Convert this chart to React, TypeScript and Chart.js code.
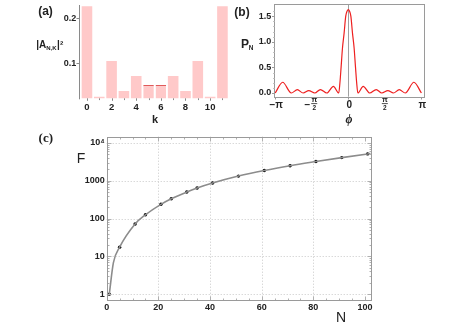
import React, { useEffect, useRef } from "react";
import { Chart, registerables } from "chart.js";

Chart.register(...registerables);

const W = 463;
const H = 328;
const SANS = '"Liberation Sans", Arial, sans-serif';
const SERIF = '"Liberation Serif", "Times New Roman", serif';
const INK = "#222";
const FRAME = "#9a9a9a";

// ---------- (a) bar chart ----------
const kCategories = ["0", "1", "2", "3", "4", "5", "6", "7", "8", "9", "10", "11"];
const amplitudeSq = [0.227, 0.0255, 0.105, 0.0384, 0.0718, 0.0518, 0.0518, 0.0718, 0.0384, 0.105, 0.0255, 0.227];
const highlightedK = [5, 6];
const aYTicks = [0.1, 0.2];
const aYLabels = ["0.1", "0.2"];

// ---------- (b) P_N(phi) ----------
const phiValues = [
  -3.1416, -2.82, -2.45, -2.19, -1.94, -1.7, -1.44, -1.2, -0.92, -0.64, -0.41, -0.36, -0.31, -0.25, -0.18, -0.11,
  -0.05, 0, 0.05, 0.11, 0.18, 0.25, 0.31, 0.36, 0.41, 0.64, 0.92, 1.2, 1.44, 1.7, 1.94, 2.19, 2.45, 2.82, 3.1416,
];
const pNValues = [
  0, 0.21, 0, 0.065, 0, 0.048, 0, 0.067, 0, 0.13, 0, 0.2, 0.5, 0.88, 1.17, 1.5, 1.6, 1.63, 1.6, 1.5, 1.17, 0.88, 0.5,
  0.2, 0, 0.13, 0, 0.067, 0, 0.048, 0, 0.065, 0, 0.21, 0,
];
const bXTicks = [-Math.PI, -Math.PI / 2, 0, Math.PI / 2, Math.PI];
const bXLabels = ["−π", "−π/2", "0", "π/2", "π"];
const bYTicks = [0, 0.5, 1.0, 1.5];
const bYLabels = ["0.0", "0.5", "1.0", "1.5"];

// ---------- (c) F(N) ----------
const nMarkers = [1, 5, 11, 15, 21, 25, 31, 35, 41, 51, 61, 71, 81, 91, 101];
const fMarkers = [1, 17.5, 72, 126, 238, 333, 503, 643, 870, 1330, 1870, 2500, 3220, 4100, 5130];
const curveN = [1, 2.6, 5, 11, 15, 21, 25, 31, 35, 41, 51, 61, 71, 81, 91, 101, 102.2];
const curveF = [1, 6.8, 17.5, 72, 126, 238, 333, 503, 643, 870, 1330, 1870, 2500, 3220, 4100, 5130, 5260];
const cXTicks = [0, 20, 40, 60, 80, 100];
const cXLabels = ["0", "20", "40", "60", "80", "100"];
const cXGrid = [20, 40, 60, 80];
const cYTicks = [1, 10, 100, 1000, 10000];
const cYLabels = ["1", "10", "100", "1000", "10⁴"];

type Area = { l: number; t: number; r: number; b: number };
const A_AREA: Area = { l: 80.8, t: 5, r: 228.6, b: 98.3 };
const B_AREA: Area = { l: 274.3, t: 4, r: 424.3, b: 96.7 };
const C_AREA: Area = { l: 106.7, t: 136.7, r: 370.7, b: 300 };

const YW = 40; // fixed width of y scale boxes (label room)
const XH = 18; // fixed height of x scale boxes

const layoutFor = (a: Area) => ({
  padding: { left: a.l - YW, top: a.t, right: W - a.r, bottom: H - a.b - XH },
});
const zeroPad = (s: any) => {
  s.paddingLeft = 0;
  s.paddingRight = 0;
  s.paddingTop = 0;
  s.paddingBottom = 0;
};
const fitX = (s: any) => {
  s.height = XH;
  zeroPad(s);
};
const fitY = (s: any) => {
  s.width = YW;
  zeroPad(s);
};
const px = (v: number) => Math.round(v) + 0.5;

function line(ctx: CanvasRenderingContext2D, x1: number, y1: number, x2: number, y2: number) {
  ctx.beginPath();
  ctx.moveTo(x1, y1);
  ctx.lineTo(x2, y2);
  ctx.stroke();
}

function text(
  ctx: CanvasRenderingContext2D,
  s: string,
  x: number,
  y: number,
  font: string,
  align: CanvasTextAlign = "center",
  baseline: CanvasTextBaseline = "alphabetic"
) {
  ctx.font = font;
  ctx.fillStyle = INK;
  ctx.textAlign = align;
  ctx.textBaseline = baseline;
  ctx.fillText(s, x, y);
}

const common = {
  responsive: false,
  animation: false as const,
  devicePixelRatio: 1,
  events: [] as any[],
};

const noGrid = { display: false, drawTicks: false, drawOnChartArea: false };

function configA(): any {
  const plugin = {
    id: "panelA",
    afterDraw(chart: any) {
      const ctx: CanvasRenderingContext2D = chart.ctx;
      const sx = chart.scales.x;
      const sy = chart.scales.y;
      ctx.save();
      ctx.strokeStyle = "#8a8a8a";
      ctx.lineWidth = 1;
      const ax = 79.5;
      line(ctx, ax, A_AREA.t, ax, A_AREA.b + 1);
      aYTicks.forEach((v) => {
        const y = px(sy.getPixelForValue(v));
        line(ctx, ax - 3, y, ax, y);
      });
      kCategories.forEach((_, i) => {
        const x = px(sx.getPixelForValue(i));
        line(ctx, x, A_AREA.b, x, A_AREA.b + (i % 2 === 0 ? 2.5 : 1.8));
      });
      // panel labels (whole figure)
      text(ctx, "(a)", 45.5, 15.3, `bold 12px ${SANS}`);
      text(ctx, "(b)", 242, 15.8, `bold 12px ${SANS}`);
      text(ctx, "(c)", 45.8, 141.5, `bold 13px ${SERIF}`);
      // |A_{N,K}|^2
      const mainF = `bold 10px ${SANS}`;
      const subF = `bold 6px ${SANS}`;
      ctx.font = mainF;
      const w1 = ctx.measureText("|A").width;
      const w3 = ctx.measureText("|²").width;
      ctx.font = subF;
      const w2 = ctx.measureText("N,K").width;
      const x0 = 49.5 - (w1 + w2 + w3) / 2;
      text(ctx, "|A", x0, 48, mainF, "left");
      text(ctx, "N,K", x0 + w1, 50, subF, "left");
      text(ctx, "|²", x0 + w1 + w2 + 0.5, 48, mainF, "left");
      text(ctx, "k", 155, 122.5, `bold 11px ${SANS}`);
      // P_N
      text(ctx, "P", 245, 48.3, `bold 12px ${SANS}`);
      text(ctx, "N", 251, 50.3, `bold 6.5px ${SANS}`);
      text(ctx, "ϕ", 349, 120, `bold italic 12px ${SERIF}`, "center", "middle");
      text(ctx, "F", 81, 163.3, `14px ${SANS}`);
      text(ctx, "N", 341, 322, `14px ${SANS}`);
      ctx.restore();
    },
  };
  return {
    type: "bar",
    data: {
      labels: kCategories,
      datasets: [
        {
          data: amplitudeSq,
          backgroundColor: "#ffc9c9",
          borderColor: (c: any) => (highlightedK.includes(c.dataIndex) ? "#e05a5a" : "rgba(0,0,0,0)"),
          borderWidth: (c: any) =>
            highlightedK.includes(c.dataIndex) ? { top: 1.2, left: 0, right: 0, bottom: 0 } : 0,
          borderSkipped: "start",
          barPercentage: 0.86,
          categoryPercentage: 1,
        },
      ],
    },
    options: {
      ...common,
      layout: layoutFor(A_AREA),
      plugins: { legend: { display: false }, tooltip: { enabled: false } },
      scales: {
        x: {
          afterFit: fitX,
          grid: noGrid,
          border: { display: false },
          ticks: {
            autoSkip: false,
            maxRotation: 0,
            padding: 3,
            color: INK,
            font: { family: SANS, size: 9.5, weight: "bold" },
            callback: (_v: any, i: number) => (i % 2 === 0 ? kCategories[i] : ""),
          },
        },
        y: {
          min: 0.0222,
          max: 0.23,
          afterFit: fitY,
          afterBuildTicks: (s: any) => {
            s.ticks = aYTicks.map((v) => ({ value: v }));
          },
          grid: noGrid,
          border: { display: false },
          ticks: {
            padding: 4.5,
            color: INK,
            font: { family: SANS, size: 9, weight: "bold" },
            callback: (v: number) => aYLabels[aYTicks.indexOf(v)] ?? "",
          },
        },
      },
    },
    plugins: [plugin],
  };
}

function configB(): any {
  const plugin = {
    id: "panelB",
    beforeDatasetsDraw(chart: any) {
      const ctx: CanvasRenderingContext2D = chart.ctx;
      const x = px(chart.scales.x.getPixelForValue(0));
      ctx.save();
      ctx.strokeStyle = "#a0a0a0";
      ctx.lineWidth = 1;
      line(ctx, x, B_AREA.t, x, B_AREA.b);
      ctx.restore();
    },
    afterDraw(chart: any) {
      const ctx: CanvasRenderingContext2D = chart.ctx;
      const sx = chart.scales.x;
      const sy = chart.scales.y;
      ctx.save();
      ctx.strokeStyle = FRAME;
      ctx.lineWidth = 1;
      ctx.strokeRect(px(B_AREA.l), px(B_AREA.t), Math.round(B_AREA.r - B_AREA.l), Math.round(B_AREA.b - B_AREA.t));
      const lx = px(B_AREA.l);
      bYTicks.forEach((v) => {
        const y = px(sy.getPixelForValue(v));
        line(ctx, lx - 2.5, y, lx, y);
      });
      ctx.strokeStyle = "#c4c4c4";
      for (let i = 1; i <= 16; i++) {
        if (i % 5 === 0) continue;
        const y = px(sy.getPixelForValue(i / 10));
        line(ctx, lx - 1.5, y, lx, y);
      }
      ctx.strokeStyle = FRAME;
      const by = px(B_AREA.b);
      bXTicks.forEach((v) => {
        const x = px(sx.getPixelForValue(v));
        line(ctx, x, by, x, by + 2);
      });
      // x labels with stacked fractions
      bXTicks.forEach((v, i) => {
        const x = sx.getPixelForValue(v);
        const lab = bXLabels[i];
        if (!lab.includes("/")) {
          text(ctx, lab, x + 1, 108.3, `bold 10px ${SANS}`);
        } else {
          const [numPart, den] = lab.split("/");
          const signed = numPart.startsWith("−");
          const num = signed ? numPart.slice(1) : numPart;
          const fx = x + (signed ? 2.5 : 0);
          text(ctx, num, fx, 102.4, `bold 7.5px ${SANS}`);
          ctx.strokeStyle = INK;
          ctx.lineWidth = 0.8;
          line(ctx, fx - 3, 103.6, fx + 3, 103.6);
          text(ctx, den, fx, 110.2, `bold 6.5px ${SANS}`);
          if (signed) text(ctx, "−", fx - 4, 108.3, `bold 10px ${SANS}`, "right");
        }
      });
      ctx.restore();
    },
  };
  return {
    type: "line",
    data: {
      datasets: [
        {
          data: phiValues.map((p, i) => ({ x: p, y: pNValues[i] })),
          borderColor: "#ee2020",
          borderWidth: 1.2,
          pointRadius: 0,
          cubicInterpolationMode: "monotone",
          fill: false,
        },
      ],
    },
    options: {
      ...common,
      layout: layoutFor(B_AREA),
      plugins: { legend: { display: false }, tooltip: { enabled: false } },
      scales: {
        x: {
          type: "linear",
          min: -3.18,
          max: 3.266,
          afterFit: fitX,
          afterBuildTicks: (s: any) => {
            s.ticks = bXTicks.map((v) => ({ value: v }));
          },
          grid: noGrid,
          border: { display: false },
          ticks: { display: false },
        },
        y: {
          min: -0.072,
          max: 1.738,
          afterFit: fitY,
          afterBuildTicks: (s: any) => {
            s.ticks = bYTicks.map((v) => ({ value: v }));
          },
          grid: noGrid,
          border: { display: false },
          ticks: {
            padding: 3,
            color: INK,
            font: { family: SANS, size: 9, weight: "bold" },
            callback: (v: number) => bYLabels[bYTicks.indexOf(v)] ?? "",
          },
        },
      },
    },
    plugins: [plugin],
  };
}

function configC(): any {
  const plugin = {
    id: "panelC",
    beforeDatasetsDraw(chart: any) {
      const ctx: CanvasRenderingContext2D = chart.ctx;
      const sx = chart.scales.x;
      const sy = chart.scales.y;
      ctx.save();
      ctx.strokeStyle = "#c8c8c8";
      ctx.lineWidth = 1;
      ctx.setLineDash([1, 2]);
      cXGrid.forEach((v) => {
        const x = px(sx.getPixelForValue(v));
        line(ctx, x, C_AREA.t, x, C_AREA.b);
      });
      cYTicks.forEach((v) => {
        const y = px(sy.getPixelForValue(v));
        line(ctx, C_AREA.l, y, C_AREA.r, y);
      });
      ctx.restore();
    },
    afterDraw(chart: any) {
      const ctx: CanvasRenderingContext2D = chart.ctx;
      const sx = chart.scales.x;
      const sy = chart.scales.y;
      ctx.save();
      ctx.lineWidth = 1;
      const L = px(C_AREA.l);
      const R = px(C_AREA.r);
      const T = px(C_AREA.t);
      const B = px(C_AREA.b);
      // inward ticks
      ctx.strokeStyle = "#b0b0b0";
      for (let d = 0; d <= 4; d++) {
        for (let m = 1; m <= 9; m++) {
          const v = m * Math.pow(10, d);
          if (v > 14000) continue;
          const y = px(sy.getPixelForValue(v));
          const len = m === 1 ? 4 : 2;
          line(ctx, L, y, L + len, y);
          line(ctx, R - len, y, R, y);
        }
      }
      for (let v = 5; v <= 100; v += 5) {
        const x = px(sx.getPixelForValue(v));
        const len = v % 20 === 0 ? 4 : 2;
        line(ctx, x, B - len, x, B);
        line(ctx, x, T, x, T + len);
      }
      ctx.strokeStyle = FRAME;
      ctx.strokeRect(L, T, R - L, B - T);
      ctx.restore();
    },
  };
  return {
    type: "line",
    data: {
      datasets: [
        {
          data: curveN.map((n, i) => ({ x: n, y: curveF[i] })),
          borderColor: "#8c8c8c",
          borderWidth: 1.6,
          pointRadius: 0,
          cubicInterpolationMode: "monotone",
          fill: false,
        },
        {
          data: nMarkers.map((n, i) => ({ x: n, y: fMarkers[i] })),
          showLine: false,
          pointRadius: 1.7,
          pointBackgroundColor: "#000",
          pointBorderColor: "#000",
          pointBorderWidth: 0,
        },
      ],
    },
    options: {
      ...common,
      layout: layoutFor(C_AREA),
      plugins: { legend: { display: false }, tooltip: { enabled: false } },
      scales: {
        x: {
          type: "linear",
          min: 0,
          max: 102.2,
          afterFit: fitX,
          afterBuildTicks: (s: any) => {
            s.ticks = cXTicks.map((v) => ({ value: v }));
          },
          grid: noGrid,
          border: { display: false },
          ticks: {
            padding: 2,
            maxRotation: 0,
            color: INK,
            font: { family: SANS, size: 9, weight: "bold" },
            callback: (v: number) => cXLabels[cXTicks.indexOf(v)] ?? "",
          },
        },
        y: {
          type: "logarithmic",
          min: 0.74,
          max: 14650,
          afterFit: fitY,
          afterBuildTicks: (s: any) => {
            s.ticks = cYTicks.map((v) => ({ value: v }));
          },
          grid: noGrid,
          border: { display: false },
          ticks: {
            padding: 2,
            color: INK,
            font: { family: SANS, size: 9, weight: "bold" },
            callback: (v: number) => cYLabels[cYTicks.indexOf(v)] ?? "",
          },
        },
      },
    },
    plugins: [plugin],
  };
}

export default function App() {
  const refA = useRef<HTMLCanvasElement>(null);
  const refB = useRef<HTMLCanvasElement>(null);
  const refC = useRef<HTMLCanvasElement>(null);

  useEffect(() => {
    const charts = [
      new Chart(refA.current as HTMLCanvasElement, configA()),
      new Chart(refB.current as HTMLCanvasElement, configB()),
      new Chart(refC.current as HTMLCanvasElement, configC()),
    ];
    return () => charts.forEach((c) => c.destroy());
  }, []);

  const cs: React.CSSProperties = { position: "absolute", left: 0, top: 0, width: W, height: H };
  return (
    <div style={{ position: "absolute", left: 0, top: 0, width: W, height: H, background: "#fff", overflow: "hidden" }}>
      <canvas ref={refA} width={W} height={H} style={cs} />
      <canvas ref={refB} width={W} height={H} style={cs} />
      <canvas ref={refC} width={W} height={H} style={cs} />
    </div>
  );
}
